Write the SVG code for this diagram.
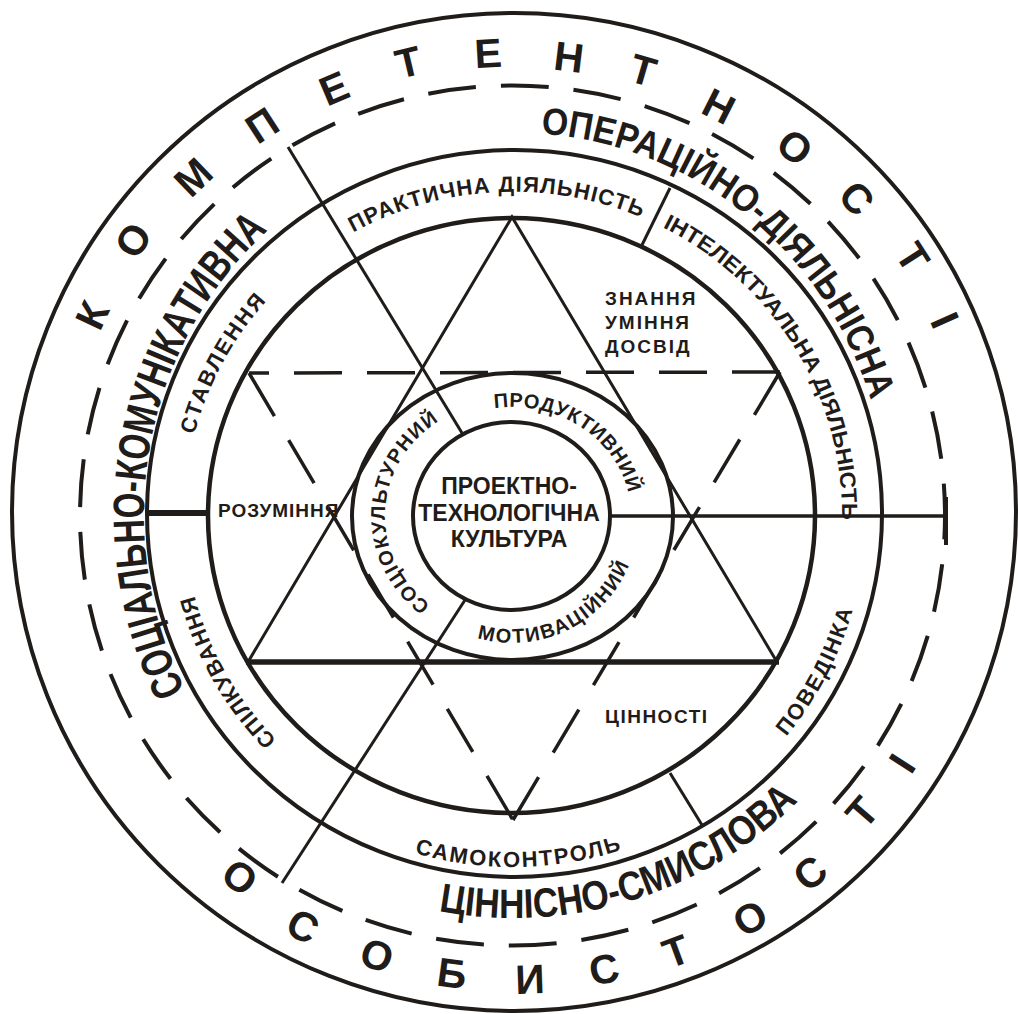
<svg xmlns="http://www.w3.org/2000/svg" width="1018" height="1014" viewBox="0 0 1018 1014">
<style>
.s{fill:none;stroke:#1f1c1a}
.t{font-family:"Liberation Sans",Arial,sans-serif;font-weight:bold;fill:#1f1c1a}
.big{font-size:41px;text-anchor:middle}
.mid{font-size:22px}
.inn{font-size:20px}
.hz{font-size:19px}
</style>
<defs>
<path id="p-soc" d="M185.4,690.2 A372,382 0 0 1 271.4,227.1"/>
<path id="p-oper" d="M540.7,133.8 A372,382 0 0 1 870.4,398.9"/>
<path id="p-cin" d="M438.5,911.1 A405,403 0 0 0 798.4,801.0"/>
<path id="p-prak" d="M353.0,232.5 A329,323 0 0 1 645.1,219.0"/>
<path id="p-int" d="M662.4,227.2 A329,323 0 0 1 842.0,518.9"/>
<path id="p-stav" d="M194.3,434.7 A329,323 0 0 1 265.5,302.2"/>
<path id="p-spil" d="M276.7,739.8 A329,323 0 0 1 194.8,597.0"/>
<path id="p-pov" d="M786.2,736.7 A353,352 0 0 0 852.5,610.9"/>
<path id="p-sam" d="M414.5,853.0 A353,352 0 0 0 621.5,850.0"/>
<path id="p-prod" d="M494.4,408.2 A119,109 0 0 1 628.6,494.3"/>
<path id="p-mot" d="M477.2,638.1 A127,127 0 0 0 629.0,565.4"/>
<path id="p-socio" d="M430.4,604.9 A127,116 0 0 1 442.8,418.7"/>
</defs>
<rect width="1018" height="1014" fill="#fff"/>

<g id="rings">
<ellipse id="ring-outer" class="s" cx="514" cy="512" rx="502" ry="499" stroke-width="4"/>
<ellipse id="ring-dashed" class="s" cx="512.5" cy="515.5" rx="432.5" ry="430" stroke-width="4" stroke-dasharray="48 25" stroke-dashoffset="24"/>
<ellipse id="ring-3" class="s" cx="514.5" cy="513.5" rx="367.5" ry="363.5" stroke-width="4"/>
<ellipse id="ring-4" class="s" cx="511.5" cy="515.5" rx="303.5" ry="297.5" stroke-width="4.5"/>
<ellipse id="ring-5" class="s" cx="512.5" cy="516.5" rx="160.5" ry="143.5" stroke-width="4"/>
<ellipse id="ring-core" class="s" cx="511.5" cy="516" rx="98.5" ry="94" stroke-width="4"/>
</g>

<g id="triangles">
<polyline class="s" points="248,662 512,217 777,662" stroke-width="3"/>
<line class="s" x1="246" y1="662" x2="779" y2="662" stroke-width="5.5"/>
<line class="s" x1="780" y1="372" x2="249" y2="373" stroke-width="3.5" stroke-dasharray="48 25"/>
<line class="s" x1="780" y1="372" x2="513" y2="820" stroke-width="3.5" stroke-dasharray="50 28.6"/>
<line class="s" x1="249" y1="373" x2="513" y2="820" stroke-width="3.5" stroke-dasharray="50 28"/>
</g>

<g id="connectors">
<line class="s" x1="288" y1="147" x2="462" y2="433" stroke-width="3"/>
<line class="s" x1="282" y1="883" x2="465" y2="600" stroke-width="3"/>
<line class="s" x1="610" y1="516" x2="946" y2="516" stroke-width="3.5"/>
<line class="s" x1="946" y1="497" x2="946" y2="545" stroke-width="4"/>
<line class="s" x1="149" y1="513" x2="208" y2="513" stroke-width="6"/>
<line class="s" x1="670" y1="188" x2="642" y2="245" stroke-width="3"/>
<line class="s" x1="670" y1="773" x2="702" y2="825" stroke-width="3"/>
</g>

<g id="label-kompetentnosti" class="t big">
<text transform="translate(92,315) rotate(-65)" y="14.5">К</text>
<text transform="translate(133,240) rotate(-54.5)" y="14.5">О</text>
<text transform="translate(193,177) rotate(-43.8)" y="14.5">М</text>
<text transform="translate(262,125) rotate(-33.1)" y="14.5">П</text>
<text transform="translate(334,88) rotate(-23)" y="14.5">Е</text>
<text transform="translate(408,62) rotate(-13.3)" y="14.5">Т</text>
<text transform="translate(488,53) rotate(-3.2)" y="14.5">Е</text>
<text transform="translate(569,57) rotate(6.9)" y="14.5">Н</text>
<text transform="translate(643,70) rotate(16.3)" y="14.5">Т</text>
<text transform="translate(719,106) rotate(26.9)" y="14.5">Н</text>
<text transform="translate(795,147) rotate(37.6)" y="14.5">О</text>
<text transform="translate(857,198) rotate(47.5)" y="14.5">С</text>
<text transform="translate(913,257) rotate(57.4)" y="14.5">Т</text>
<text transform="translate(945,320) rotate(66)" y="14.5">І</text>
</g>

<g id="label-osobystosti" class="t big">
<text transform="translate(240,877) rotate(36.9)" y="14.5">О</text>
<text transform="translate(303,926) rotate(27)" y="14.5">С</text>
<text transform="translate(377,955) rotate(17.2)" y="14.5">О</text>
<text transform="translate(452,973) rotate(7.7)" y="14.5">Б</text>
<text transform="translate(530,979) rotate(-2)" y="14.5">И</text>
<text transform="translate(604,969) rotate(-11.1)" y="14.5">С</text>
<text transform="translate(676,951) rotate(-20.3)" y="14.5">Т</text>
<text transform="translate(750,918) rotate(-30.2)" y="14.5">О</text>
<text transform="translate(810,873) rotate(-39.4)" y="14.5">С</text>
<text transform="translate(862,812) rotate(-49.2)" y="14.5">Т</text>
<text transform="translate(902,763) rotate(-57.1)" y="14.5">І</text>
</g>

<g id="label-social" class="t"><text font-size="44"><textPath href="#p-soc" textLength="501" lengthAdjust="spacingAndGlyphs">СОЦІАЛЬНО-КОМУНІКАТИВНА</textPath></text></g>
<g id="label-operational" class="t"><text font-size="38"><textPath href="#p-oper" textLength="451" lengthAdjust="spacingAndGlyphs">ОПЕРАЦІЙНО-ДІЯЛЬНІСНА</textPath></text></g>
<g id="label-value" class="t"><text font-size="41"><textPath href="#p-cin" textLength="391" lengthAdjust="spacingAndGlyphs">ЦІННІСНО-СМИСЛОВА</textPath></text></g>

<g id="label-practical" class="t mid"><text><textPath href="#p-prak" textLength="298">ПРАКТИЧНА ДІЯЛЬНІСТЬ</textPath></text></g>
<g id="label-intellectual" class="t mid"><text><textPath href="#p-int" textLength="362" lengthAdjust="spacingAndGlyphs">ІНТЕЛЕКТУАЛЬНА ДІЯЛЬНІСТЬ</textPath></text></g>
<g id="label-stavlennia" class="t mid"><text><textPath href="#p-stav" textLength="153">СТАВЛЕННЯ</textPath></text></g>
<g id="label-spilkuvannia" class="t mid"><text><textPath href="#p-spil" textLength="168">СПІЛКУВАННЯ</textPath></text></g>
<g id="label-povedinka" class="t mid"><text><textPath href="#p-pov" textLength="144">ПОВЕДІНКА</textPath></text></g>
<g id="label-samokontrol" class="t mid"><text><textPath href="#p-sam" textLength="210">САМОКОНТРОЛЬ</textPath></text></g>

<g id="label-produktyvnyi" class="t inn"><text><textPath href="#p-prod" textLength="173">ПРОДУКТИВНИЙ</textPath></text></g>
<g id="label-motyvatsiinyi" class="t inn"><text><textPath href="#p-mot" textLength="184">МОТИВАЦІЙНИЙ</textPath></text></g>
<g id="label-sotsiokulturnyi" class="t inn"><text><textPath href="#p-socio" textLength="217">СОЦІОКУЛЬТУРНИЙ</textPath></text></g>

<g id="label-core" class="t" font-size="23" text-anchor="middle">
<text x="509" y="494">ПРОЕКТНО-</text>
<text x="509" y="521">ТЕХНОЛОГІЧНА</text>
<text x="509" y="547">КУЛЬТУРА</text>
</g>

<g id="label-znannia" class="t hz" letter-spacing="2">
<text x="605" y="305">ЗНАННЯ</text>
<text x="605" y="329">УМІННЯ</text>
<text x="605" y="353">ДОСВІД</text>
</g>
<g id="label-rozuminnia" class="t hz"><text x="218" y="517" letter-spacing="1">РОЗУМІННЯ</text></g>
<g id="label-tsinnosti" class="t hz"><text x="605" y="723" letter-spacing="1.5">ЦІННОСТІ</text></g>
</svg>
